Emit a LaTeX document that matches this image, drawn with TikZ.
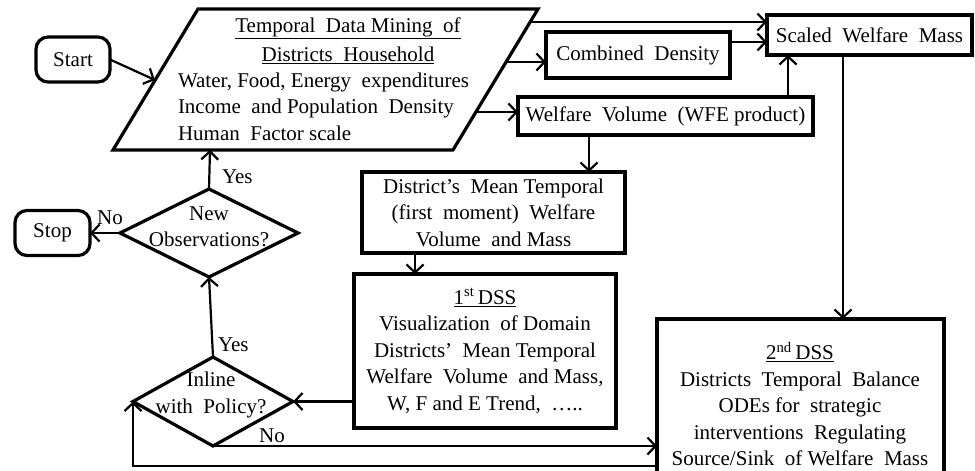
\documentclass[tikz,border=0pt]{standalone}
\usepackage{fontspec}
\setmainfont{Liberation Serif}
\usetikzlibrary{arrows.meta,shapes.geometric}
\begin{document}
\begin{tikzpicture}[x=1pt,y=-1pt,
  every node/.style={font=\fontsize{21}{26.5}\selectfont, inner sep=0pt, outer sep=0pt},
  box/.style={draw, line width=3.2pt, align=center},
  term/.style={draw, line width=3.2pt, rounded corners=12pt},
  dia/.style={draw, diamond, line width=3.2pt},
  conn/.style={line width=2.2pt, -{Straight Barb[length=8pt,width=17pt,line width=2.2pt]}},
  lbl/.style={anchor=west}
]
\useasboundingbox (0,0) rectangle (975,471);
\clip (0,0) rectangle (975,471);

% parallelogram
\coordinate (pTL) at (198,9);
\coordinate (pTR) at (538,9);
\coordinate (pBR) at (453,150);
\coordinate (pBL) at (113,150);
\draw[line width=3.2pt, line join=miter] (pTL) -- (pTR) -- (pBR) -- (pBL) -- cycle;
\coordinate (pin) at (155,80);
\coordinate (pout1) at (530,22);
\coordinate (pout2) at (506,62);
\coordinate (pout3) at (477,112);
\coordinate (pbot) at (210,150);
\node (t1) at (348,28) {\underline{Temporal\ \ Data Mining\ \ of}};
\node (t2) at (348,55) {\underline{Districts\ \ Household}};
\node[anchor=west] (t3) at (178,82) {Water, Food, Energy\ \ expenditures};
\node[anchor=west] (t4) at (178,108) {Income\ \ and Population\ \ Density};
\node[anchor=west] (t5) at (178,133) {Human\ \ Factor scale};

% terminals
\node[term, minimum width=74pt, minimum height=45pt] (start) at (73,59.5) {Start};
\node[term, minimum width=75pt, minimum height=45pt] (stop) at (52.5,233) {Stop};

% boxes
\node[box, minimum width=184pt, minimum height=46pt] (comb) at (638,55) {Combined\ \ Density};
\node[box, minimum width=205pt, minimum height=40pt] (scaled) at (869.5,35) {Scaled\ \ Welfare\ \ Mass};
\node[box, minimum width=295pt, minimum height=38pt] (wv) at (665.5,116) {Welfare\ \ Volume\ \ (WFE product)};
\node[box, minimum width=263pt, minimum height=81pt] (dist) at (493.5,212.5) {District’s\ \ Mean Temporal\\(first\ \ moment)\ \ Welfare\\Volume\ \ and Mass};
\node[box, minimum width=262pt, minimum height=154pt] (dss1) at (485,351) {\underline{1\textsuperscript{st}\,DSS}\\Visualization\ \ of Domain\\Districts’\ \ Mean Temporal\\Welfare\ \ Volume\ \ and Mass,\\W, F and E Trend,\ \ …..};
\node[minimum width=287pt, minimum height=153pt] (dss2) at (800.5,395.5) {};
\draw[line width=3.2pt] (dss2.south west) -- (dss2.north west) -- (dss2.north east) -- (dss2.south east);
\node[align=center] (dss2t) at (800,404) {\underline{2\textsuperscript{nd}\,DSS}\\Districts\ \ Temporal\ \ Balance\\ODEs for\ \ strategic\\interventions\ \ Regulating\\Source/Sink\ \ of Welfare\ \ Mass};

% diamonds
\node[dia, minimum width=178pt, minimum height=88pt] (newobs) at (209,233) {};
\node[align=center] (newobst) at (209,227) {New\\Observations?};
\node[dia, minimum width=160pt, minimum height=89pt] (inline) at (213,401.5) {};
\node[align=center] (inlinet) at (211,395) {Inline\\with\ \ Policy?};

% connectors
\draw[conn] (start.east) -- (pin);
\draw[conn] (pout1) -- (pout1 -| scaled.west);
\draw[conn] (pout2) -- (pout2 -| comb.west);
\draw[conn] ([yshift=-10pt]comb.north east) -- ([yshift=-10pt]comb.north east -| scaled.west);
\draw[conn] (pout3) -- (pout3 -| wv.west);
\draw[conn] ([xshift=122.5pt]wv.north) -- ([xshift=122.5pt]wv.north |- scaled.south);
\draw[conn] ([xshift=-26.5pt]scaled.south) -- ([xshift=-26.5pt]scaled.south |- dss2.north);
\draw[conn] ([xshift=-76.5pt]wv.south) -- ([xshift=-76.5pt]wv.south |- dist.north);
\draw[conn] ([xshift=-78.5pt]dist.south) -- ([xshift=-78.5pt]dist.south |- dss1.north);
\draw[conn] (dss1.west |- inline.east) -- (inline.east);
\draw[conn] (inline.north) -- (newobs.south);
\draw[conn] (newobs.north) -- (pbot);
\draw[conn] (newobs.west) -- (stop.east);
\draw[conn] (inline.south) -- (inline.south -| dss2.west);
\coordinate (loop) at (657,466);
\draw[conn] (loop) -- (loop -| inline.west) -- (inline.west);

% labels
\node[lbl] (yes1) at (222,177) {Yes};
\node (no1) at (110,218) {No};
\node[lbl] (yes2) at (218,345) {Yes};
\node (no2) at (272,436) {No};
\end{tikzpicture}
\end{document}
